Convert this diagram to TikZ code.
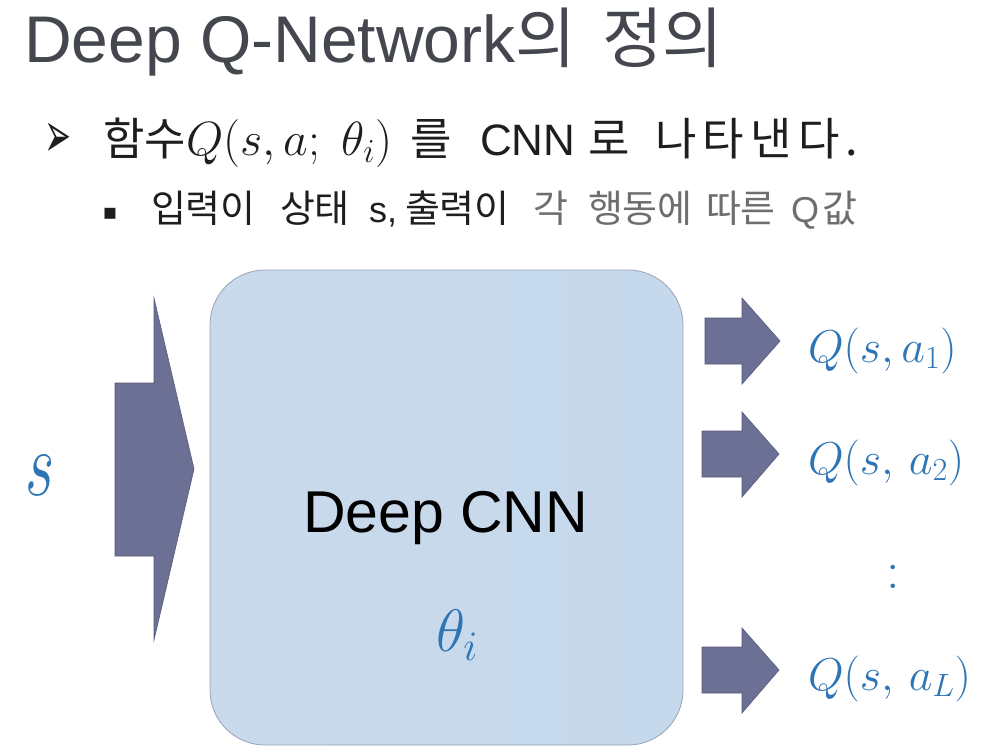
\RequirePackage{fix-cm}
\documentclass[tikz,border=0pt]{standalone}
\usepackage{fontspec}
\setmainfont{Liberation Sans}
\newfontfamily\kr{Noto Sans CJK KR}
\newfontfamily\krsp{Noto Sans CJK KR}[LetterSpace=14]
\newfontfamily\dvs{DejaVu Sans}
\definecolor{titlegray}{HTML}{45474F}
\definecolor{textdark}{HTML}{1E1E1E}
\definecolor{textgray}{HTML}{6E6E6E}
\definecolor{qblue}{HTML}{2E75B6}
\definecolor{arrowfill}{HTML}{6B7094}
\definecolor{arrowdraw}{HTML}{555A7C}
\definecolor{boxL}{HTML}{CADAED}
\definecolor{boxM}{HTML}{BED2E8}
\definecolor{boxR}{HTML}{C6D8EB}
\definecolor{boxline}{HTML}{98A3B6}
\begin{document}
\begin{tikzpicture}[x=1pt,y=-1pt,
  every node/.style={inner sep=0pt, outer sep=0pt},
  title/.style={font=\fontsize{66}{70}\selectfont, text=titlegray, anchor=base west},
  titlekr/.style={font=\kr\fontsize{66}{70}\selectfont, text=titlegray, anchor=base west},
  ltwo/.style={font=\fontsize{44}{50}\selectfont, text=textdark, anchor=base west},
  ltwokr/.style={font=\kr\fontsize{45}{50}\selectfont, text=textdark, anchor=base west},
  lthree/.style={font=\kr\fontsize{38}{42}\selectfont, text=textdark, anchor=base west},
  lthreelat/.style={font=\fontsize{36}{40}\selectfont, text=textdark, anchor=base west},
  graytxt/.style={text=textgray},
  blk/.style={fill=arrowfill, draw=arrowdraw, line width=0.6pt},
  qlab/.style={text=qblue, font=\fontsize{46}{52}\selectfont, anchor=base west},
  cnnbox/.style={rounded corners=55pt, draw=boxline, line width=0.8pt,
    left color=boxL, middle color=boxM, right color=boxR,
    minimum width=473pt, minimum height=475pt}
]
\useasboundingbox (0,0) rectangle (1000,750);
\fill[white] (0,0) rectangle (1000,750);

% title
\node[title] (t1) at (24,62) {Deep Q-Network{\kr 의}};
\node[titlekr] (t2) at (602,62) {정의};

% line 2
\node[font=\dvs\fontsize{34}{36}\selectfont, text=textdark, xscale=0.95, yscale=1.9, transform shape] (b1) at (58,140) {➢};
\node[ltwokr] (l2a) at (103,155) {함수};
\node[ltwo, font=\fontsize{48}{52}\selectfont] (l2b) at (186,155) {$Q(s,a;\;\theta_i)$};
\node[ltwokr] (l2c) at (410,155) {를};
\node[ltwo] (l2d) at (480,155) {CNN};
\node[ltwokr] (l2e) at (588,155) {로};
\node[ltwo, font=\krsp\fontsize{45}{50}\selectfont] (l2f) at (655,155) {나타낸다.};

% line 3
\node[font=\dvs\fontsize{22}{24}\selectfont, text=textdark] (b2) at (110,214) {▪};
\node[lthree] (w1) at (151,222) {입력이};
\node[lthree] (w2) at (280,222) {상태};
\node[lthreelat] (w3) at (369,222) {s,};
\node[lthree] (w4) at (405,222) {출력이};
\node[lthree, graytxt] (w5) at (533,222) {각};
\node[lthree, graytxt] (w6) at (588,222) {행동에};
\node[lthree, graytxt] (w7) at (706,222) {따른};
\node[lthreelat, graytxt] (w8) at (791,222) {Q};
\node[lthree, graytxt] (w9) at (822,222) {값};

% network box
\node[cnnbox] (cnn) at (446.5,507.5) {};
\node[font=\fontsize{59}{64}\selectfont, text=black, anchor=base west] (dcnn) at (303,532) {Deep CNN};
\node[text=qblue, font=\fontsize{60}{66}\selectfont, anchor=base west] (theta) at (436,651) {$\theta_i$};

% input
\node[text=qblue, font=\fontsize{93}{100}\selectfont, anchor=base, xscale=0.68, transform shape] (sin) at (40,495) {$s$};
\filldraw[blk] (115,383) -- (154,383) -- (154,298) -- (194,469) -- (154,640) -- (154,556) -- (115,556) -- cycle;

% outputs
\filldraw[blk] (705,318) -- (742,318) -- (742,298) -- (780,341) -- (742,384) -- (742,364) -- (705,364) -- cycle;
\filldraw[blk] (702,431) -- (742,431) -- (742,412) -- (779,454) -- (742,497) -- (742,477) -- (702,477) -- cycle;
\filldraw[blk] (702,647) -- (742,647) -- (742,628) -- (779,670) -- (742,713) -- (742,693) -- (702,693) -- cycle;

\node[qlab] (q1) at (808,362) {$Q(s,a_1)$};
\node[qlab] (q2) at (808,474) {$Q(s,\,a_2)$};
\node[text=qblue, font=\fontsize{54}{60}\selectfont] (qd) at (893,577) {$:$};
\node[qlab] (q3) at (808,690) {$Q(s,\,a_L)$};
\end{tikzpicture}
\end{document}
